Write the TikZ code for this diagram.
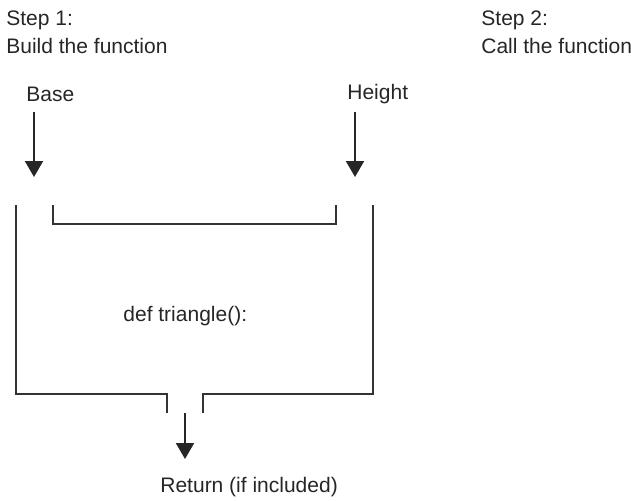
\documentclass[tikz,border=0pt]{standalone}
\usepackage{fontspec}
\setmainfont{Liberation Sans}
\usetikzlibrary{arrows.meta}
\begin{document}
\begin{tikzpicture}[x=0.5pt,y=-0.5pt,
  lbl/.style={inner sep=0pt,anchor=base west,font=\fontsize{10.5pt}{12pt}\selectfont,text=black!85},
  flow/.style={line width=1pt,draw=black!85,-{Triangle[width=9pt,length=8pt]}},
  frame/.style={line width=0.55pt,draw=black!80}]
\useasboundingbox (0,0) rectangle (631,500);
% texts
\node[lbl] (s1) at (6,25) {Step 1:};
\node[lbl] (s1b) at (6,53) {Build the function};
\node[lbl] (s2) at (481,25) {Step 2:};
\node[lbl] (s2b) at (481,53) {Call the function};
\node[lbl] (base) at (26,101) {Base};
\node[lbl] (height) at (347,99) {Height};
\node[lbl] (def) at (123,321) {def triangle():};
\node[lbl] (ret) at (160,492) {Return (if included)};
% arrow coordinates
\coordinate (b0) at (34,112);
\coordinate (b1) at (34,177);
\coordinate (h0) at (355,112);
\coordinate (h1) at (355,177);
\coordinate (r0) at (185,413);
\coordinate (r1) at (185,459);
\draw[flow] (b0) -- (b1);
\draw[flow] (h0) -- (h1);
\draw[flow] (r0) -- (r1);
% frame
\draw[frame] (53,205) -- (53,224) -- (336,224) -- (336,205);
\draw[frame] (16,205) -- (16,394) -- (167,394) -- (167,413);
\draw[frame] (373,205) -- (373,394) -- (203,394) -- (203,413);
\end{tikzpicture}
\end{document}
